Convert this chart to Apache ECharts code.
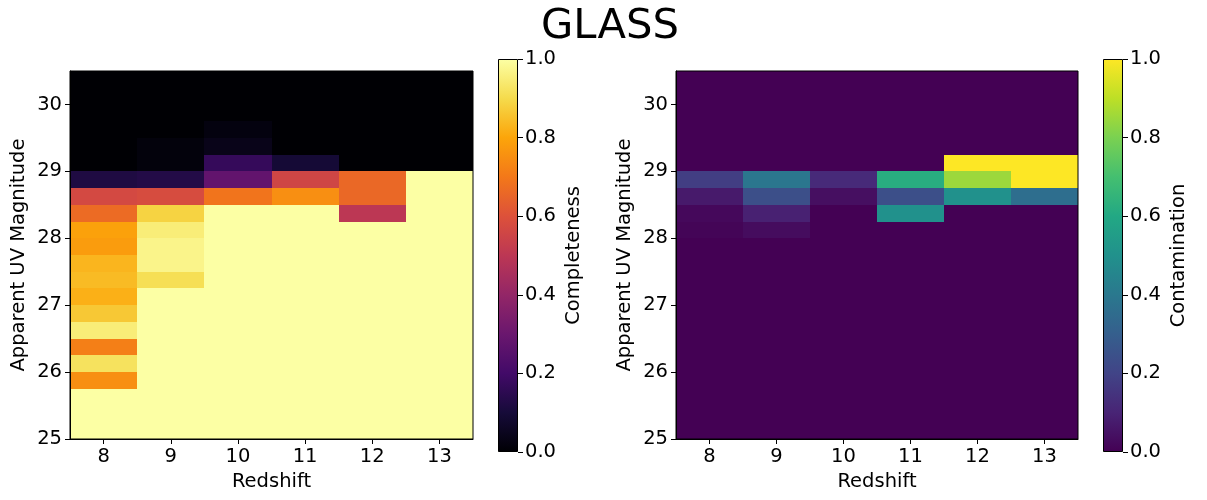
<!DOCTYPE html>
<html><head><meta charset="utf-8">
<script src="https://cdn.jsdelivr.net/npm/echarts@6/dist/echarts.min.js"></script>
<style>html,body{margin:0;padding:0;background:#fff}#chart{width:1207px;height:500px}</style>
</head><body><div id="chart"></div>
<script>
// ---- data ----
const redshifts = ['8', '9', '10', '11', '12', '13'];
// lower edge of each magnitude bin (bottom row first)
const magBinLow = [25.0, 25.25, 25.5, 25.75, 26.0, 26.25, 26.5, 26.75, 27.0, 27.25, 27.5,
                   27.75, 28.0, 28.25, 28.5, 28.75, 29.0, 29.25, 29.5, 29.75, 30.0, 30.25];
const magBinWidth = 0.25;
const magRange = [25, 30.5];
const magTicks = [25, 26, 27, 28, 29, 30];
const colorRange = [0, 1];

const completenessZ8  = [1, 1, 1, 0.75, 0.92, 0.715, 0.95, 0.865, 0.82, 0.84, 0.83, 0.78, 0.79, 0.667, 0.57, 0.12, 0, 0, 0, 0, 0, 0];
const completenessZ9  = [1, 1, 1, 1, 1, 1, 1, 1, 1, 0.91, 0.97, 0.97, 0.95, 0.885, 0.58, 0.13, 0.015, 0.015, 0, 0, 0, 0];
const completenessZ10 = [1, 1, 1, 1, 1, 1, 1, 1, 1, 1, 1, 1, 1, 1, 0.69, 0.28, 0.17, 0.04, 0.02, 0, 0, 0];
const completenessZ11 = [1, 1, 1, 1, 1, 1, 1, 1, 1, 1, 1, 1, 1, 1, 0.75, 0.556, 0.095, 0, 0, 0, 0, 0];
const completenessZ12 = [1, 1, 1, 1, 1, 1, 1, 1, 1, 1, 1, 1, 1, 0.5, 0.66, 0.66, 0, 0, 0, 0, 0, 0];
const completenessZ13 = [1, 1, 1, 1, 1, 1, 1, 1, 1, 1, 1, 1, 1, 1, 1, 1, 0, 0, 0, 0, 0, 0];

const contaminationZ8  = [0, 0, 0, 0, 0, 0, 0, 0, 0, 0, 0, 0, 0.01, 0.02, 0.07, 0.18, 0, 0, 0, 0, 0, 0];
const contaminationZ9  = [0, 0, 0, 0, 0, 0, 0, 0, 0, 0, 0, 0, 0.03, 0.09, 0.24, 0.39, 0, 0, 0, 0, 0, 0];
const contaminationZ10 = [0, 0, 0, 0, 0, 0, 0, 0, 0, 0, 0, 0, 0, 0, 0.04, 0.12, 0, 0, 0, 0, 0, 0];
const contaminationZ11 = [0, 0, 0, 0, 0, 0, 0, 0, 0, 0, 0, 0, 0, 0.5, 0.24, 0.62, 0, 0, 0, 0, 0, 0];
const contaminationZ12 = [0, 0, 0, 0, 0, 0, 0, 0, 0, 0, 0, 0, 0, 0, 0.5, 0.85, 1.0, 0, 0, 0, 0, 0];
const contaminationZ13 = [0, 0, 0, 0, 0, 0, 0, 0, 0, 0, 0, 0, 0, 0, 0.36, 1.0, 1.0, 0, 0, 0, 0, 0];

const completeness = [completenessZ8, completenessZ9, completenessZ10, completenessZ11, completenessZ12, completenessZ13];
const contamination = [contaminationZ8, contaminationZ9, contaminationZ10, contaminationZ11, contaminationZ12, contaminationZ13];

// ---- colormaps ----
const inferno = ['#000004', '#160b39', '#420a68', '#6a176e', '#932667', '#bc3754',
                 '#dd513a', '#f37819', '#fca50a', '#f5db4c', '#fcffa4'];
const viridis = ['#440154', '#482475', '#414487', '#355f8d', '#2a788e', '#21918c',
                 '#22a884', '#44bf70', '#7ad151', '#bddf26', '#fde725'];

function toCells(grid) {
  const out = [];
  grid.forEach((col, i) => col.forEach((v, k) => out.push([i, magBinLow[k], v])));
  return out;
}

function renderCell(params, api) {
  const xi = api.value(0);
  const lo = api.value(1);
  const p0 = api.coord([xi, lo]);
  const p1 = api.coord([xi, lo + magBinWidth]);
  const bw = api.size([1, 0])[0];
  const x0 = Math.round(p0[0] - bw / 2), x1 = Math.round(p0[0] + bw / 2);
  const yTop = Math.round(p1[1]), yBot = Math.round(p0[1]);
  return {
    type: 'rect',
    shape: { x: x0, y: yTop, width: x1 - x0, height: yBot - yTop },
    style: { fill: api.visual('color') }
  };
}

const FONT = 'DejaVu Sans';
const txt = { color: '#000', fontFamily: FONT, fontSize: 19.5 };
const blackLine = { lineStyle: { color: '#000', width: 1 } };

function gradient(stops) {
  return new echarts.graphic.LinearGradient(0, 1, 0, 0,
    stops.map((c, i) => ({ offset: i / (stops.length - 1), color: c })));
}

function mainX(gridIndex) {
  return {
    type: 'category', gridIndex, data: redshifts, boundaryGap: true, z: 10,
    name: 'Redshift', nameLocation: 'middle', nameGap: 32, nameTextStyle: txt,
    axisLine: { show: true, ...blackLine },
    axisTick: { show: true, alignWithLabel: true, length: 5, ...blackLine },
    axisLabel: { ...txt, margin: 8 },
    splitLine: { show: false }
  };
}
function mainY(gridIndex) {
  return {
    type: 'value', gridIndex, min: magRange[0], max: magRange[1], z: 10,
    name: 'Apparent UV Magnitude', nameLocation: 'middle', nameGap: 41, nameRotate: 90,
    nameTextStyle: txt,
    axisLine: { show: true, ...blackLine },
    axisTick: { show: true, length: 5, customValues: magTicks, ...blackLine },
    axisLabel: { ...txt, margin: 8, customValues: magTicks, formatter: v => String(v) },
    splitLine: { show: false }
  };
}
function cbX(gridIndex) {
  return { type: 'category', gridIndex, data: [''], show: false, boundaryGap: true };
}
function cbY(gridIndex, label) {
  return {
    type: 'value', gridIndex, position: 'right', min: colorRange[0], max: colorRange[1], interval: 0.2, z: 10,
    name: label, nameLocation: 'middle', nameGap: 46, nameRotate: 90, nameTextStyle: txt,
    axisLine: { show: false },
    axisTick: { show: true, length: 5, ...blackLine },
    axisLabel: { ...txt, margin: 7, formatter: v => v.toFixed(1) },
    splitLine: { show: false }
  };
}

const chart = echarts.init(document.getElementById('chart'), null, { renderer: 'canvas' });
chart.setOption({
  animation: false,
  backgroundColor: '#fff',
  title: {
    text: 'GLASS', left: 605, top: 1, textAlign: 'center',
    textStyle: { color: '#000', fontFamily: FONT, fontSize: 41.7, fontWeight: 'normal' }
  },
  grid: [
    { left: 70, top: 71, width: 403, height: 368, show: true, borderColor: '#000', borderWidth: 1, backgroundColor: 'transparent', z: 10 },
    { left: 676, top: 71, width: 402, height: 368, show: true, borderColor: '#000', borderWidth: 1, backgroundColor: 'transparent', z: 10 },
    { left: 498, top: 59, width: 20, height: 393 },
    { left: 1103, top: 59, width: 20, height: 393 }
  ],
  xAxis: [mainX(0), mainX(1), cbX(2), cbX(3)],
  yAxis: [mainY(0), mainY(1), cbY(2, 'Completeness'), cbY(3, 'Contamination')],
  visualMap: [
    { type: 'continuous', show: false, seriesIndex: 0, dimension: 2, min: colorRange[0], max: colorRange[1], inRange: { color: inferno } },
    { type: 'continuous', show: false, seriesIndex: 1, dimension: 2, min: colorRange[0], max: colorRange[1], inRange: { color: viridis } }
  ],
  series: [
    { type: 'custom', xAxisIndex: 0, yAxisIndex: 0, renderItem: renderCell, data: toCells(completeness), encode: { x: 0, y: 1 } },
    { type: 'custom', xAxisIndex: 1, yAxisIndex: 1, renderItem: renderCell, data: toCells(contamination), encode: { x: 0, y: 1 } },
    { type: 'bar', xAxisIndex: 2, yAxisIndex: 2, data: [colorRange[1]], barWidth: '100%', silent: true,
      itemStyle: { color: gradient(inferno), borderColor: '#000', borderWidth: 1 } },
    { type: 'bar', xAxisIndex: 3, yAxisIndex: 3, data: [colorRange[1]], barWidth: '100%', silent: true,
      itemStyle: { color: gradient(viridis), borderColor: '#000', borderWidth: 1 } }
  ]
});
</script></body></html>
